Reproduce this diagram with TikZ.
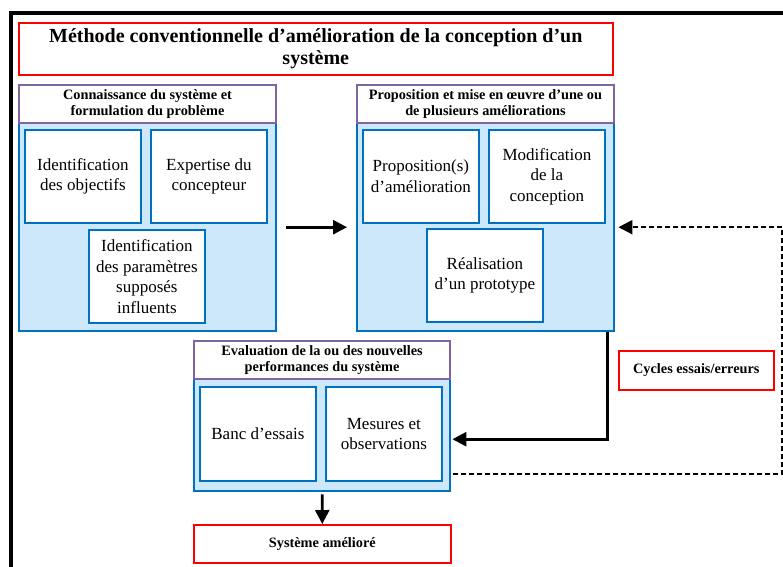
\documentclass[tikz,border=0pt]{standalone}
\usepackage{fontspec}
\setmainfont{Liberation Serif}
\usetikzlibrary{arrows.meta}
\definecolor{bblue}{HTML}{0070C0}
\definecolor{lblue}{HTML}{CCE8FA}
\definecolor{hpurple}{HTML}{8064A2}
\definecolor{rred}{HTML}{FF0000}
\tikzset{
  redbox/.style={draw=rred, line width=1.6pt, fill=white, inner sep=0pt, anchor=north west, align=center},
  hdr/.style={draw=hpurple, line width=2pt, fill=white, inner sep=0pt, anchor=north west, align=center,
    font=\fontsize{14.3}{16.8}\selectfont\bfseries},
  body/.style={draw=bblue, line width=2.4pt, fill=lblue, inner sep=0pt, anchor=north west},
  inner/.style={draw=bblue, line width=1.8pt, fill=white, inner sep=0pt, anchor=north west, align=center,
    minimum width=116, minimum height=93, font=\fontsize{17}{20.5}\selectfont},
  arr/.style={line width=2.6pt, -{Triangle[length=14pt,width=14pt]}},
}
\begin{document}
\begin{tikzpicture}[x=1pt,y=-1pt]
\useasboundingbox (0,0) rectangle (783,566);
\begin{scope}
\clip (0,0) rectangle (783,566);
\draw[line width=3.4pt] (11,13) rectangle (820,620);
\end{scope}
% title
\node[redbox, minimum width=594, minimum height=52, font=\fontsize{20}{22}\selectfont\bfseries] (title) at (18,22)
  {M\'ethode conventionnelle d’am\'elioration de la conception d’un\\syst\`eme};
% block 1
\node[body, minimum width=257, minimum height=208] (b1) at (18,122) {};
\node[hdr, minimum width=257, minimum height=38] (h1) at (18,84) {Connaissance du syst\`eme et\\formulation du probl\`eme};
\node[inner] (i11) at (24,129) {Identification\\des objectifs};
\node[inner] (i12) at (150,129) {Expertise du\\concepteur};
\node[inner] (i13) at (88,229) {Identification\\des param\`etres\\suppos\'es\\influents};
% block 2
\node[body, minimum width=257, minimum height=208] (b2) at (356,122) {};
\node[hdr, minimum width=257, minimum height=38] (h2) at (356,84) {Proposition et mise en \oe uvre d’une ou\\de plusieurs am\'eliorations};
\node[inner] (i21) at (362,129) {Proposition(s)\\d’am\'elioration};
\node[inner] (i22) at (488,129) {Modification\\de la\\conception};
\node[inner] (i23) at (426,228) {R\'ealisation\\d’un prototype};
% block 3
\node[body, minimum width=256, minimum height=112] (b3) at (193,378) {};
\node[hdr, minimum width=256, minimum height=38] (h3) at (193,340) {Evaluation de la ou des nouvelles\\performances du syst\`eme};
\node[inner, minimum height=94] (i31) at (199,386) {Banc d’essais};
\node[inner, minimum height=94] (i32) at (325,386) {Mesures et\\observations};
% result and cycles
\node[redbox, minimum width=257, minimum height=38, font=\fontsize{14.3}{16.8}\selectfont\bfseries] (res) at (193,524) {Syst\`eme am\'elior\'e};
\node[redbox, minimum width=155, minimum height=39, font=\fontsize{14.3}{16.8}\selectfont\bfseries] (cyc) at (618,350) {Cycles essais/erreurs};
% connectors
\coordinate (dR) at (782,0);
\draw[arr, shorten <=9pt, shorten >=9pt] (b1.east) -- (b2.west);
\draw[arr, shorten >=1pt] ([xshift=-8pt]b2.south east) |- ([yshift=-4pt]b3.east);
\draw[arr, shorten <=2pt] (b3.south) -- (res.north);
\coordinate (dA) at ([yshift=-39pt]b3.east);
\draw[arr, dashed, dash pattern=on 5pt off 3pt, shorten >=3pt, line width=2.2pt] ([xshift=2pt]dA) -- (dA -| dR) -- (dR |- b2.east) -- (b2.east);
\end{tikzpicture}
\end{document}
